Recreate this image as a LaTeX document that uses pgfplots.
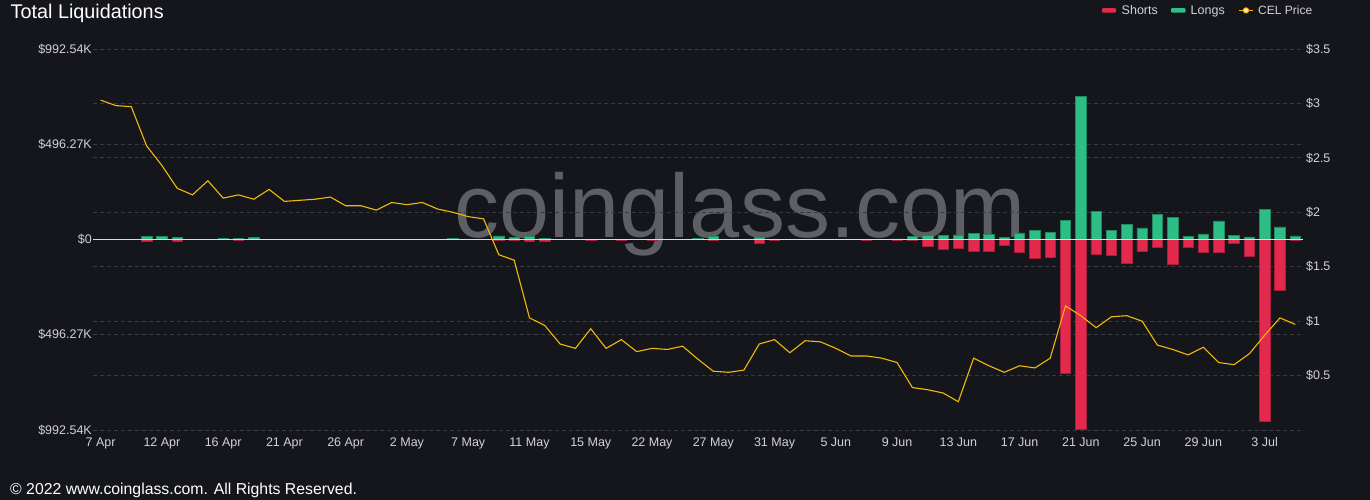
\documentclass[border=0pt]{standalone}
\usepackage{fontspec}
\setmainfont{Liberation Sans}
\usepackage{pgfplots}
\pgfplotsset{compat=1.18}
\usepackage{pgfplotstable}

\definecolor{bg}{HTML}{15161B}
\definecolor{gridc}{HTML}{393A40}
\definecolor{txt}{HTML}{D2D2D5}
\definecolor{shortc}{HTML}{E3294D}
\definecolor{shortd}{HTML}{A81E3A}
\definecolor{longc}{HTML}{2EBD85}
\definecolor{longd}{HTML}{1E8A60}
\definecolor{pricec}{HTML}{F0B90B}
\definecolor{wm}{HTML}{5E5F64}
\definecolor{zeroc}{HTML}{DCDCDC}

\pgfplotstableread{
i longs shorts price
0 0.8 0 3.03
1 1.5 0 2.98
2 0 -0.8 2.97
3 14 -7 2.61
4 17 0 2.43
5 12 -7 2.22
6 2 0 2.16
7 0 0 2.29
8 5 0 2.13
9 5 -5 2.16
10 10 0 2.12
11 0 0 2.21
12 0 0 2.10
13 0 0 2.11
14 2 0 2.12
15 0 0 2.14
16 0 0 2.06
17 0 0 2.06
18 0 0 2.02
19 0 0 2.09
20 0 0 2.07
21 0 0 2.09
22 0 0 2.03
23 7 0 2.00
24 2 0 1.96
25 2 0 1.94
26 19 -5 1.61
27 10 -2 1.56
28 15 -9 1.03
29 4 -10 0.96
30 2 0 0.79
31 0 0 0.75
32 0 -5 0.93
33 0 0 0.75
34 0 -2 0.83
35 0 0 0.72
36 0 -5 0.75
37 0 0 0.74
38 0 0 0.77
39 5 0 0.65
40 14 -5 0.54
41 0 0 0.53
42 2 0 0.55
43 9 -19 0.79
44 0 -2 0.83
45 0 0 0.71
46 0 0 0.82
47 0 0 0.81
48 0 0 0.75
49 0 0 0.68
50 0 -2 0.68
51 0 0 0.66
52 3 -2 0.62
53 15.6 -5 0.39
54 22.6 -36.4 0.37
55 20.8 -50.3 0.34
56 24.3 -46.9 0.26
57 31.2 -60.7 0.66
58 26 -60.7 0.59
59 10.4 -31.2 0.53
60 34.7 -65.9 0.59
61 46.9 -95.5 0.57
62 38.2 -92.1 0.66
63 98.9 -696 1.14
64 745 -990 1.05
65 145.8 -74.6 0.94
66 48.6 -79.8 1.04
67 78.1 -125 1.05
68 60.7 -59 1.00
69 130 -38.2 0.78
70 116 -126.7 0.74
71 15.6 -39.9 0.69
72 29.5 -65.9 0.76
73 97.2 -64.2 0.62
74 20.8 -19.1 0.60
75 13.9 -85 0.70
76 157.9 -946 0.87
77 65.9 -263.8 1.03
78 19.1 -2 0.97
}\data

\begin{document}
\begin{tikzpicture}[x=1pt,y=1pt]
\fill[bg] (0,0) rectangle (1370,500);
\node[anchor=base, text=wm, inner sep=0pt, font=\fontsize{90}{90}\selectfont] at (740,262) {coinglass.com};

\begin{axis}[
  at={(93pt,70pt)}, anchor=south west,
  scale only axis, width=1210pt, height=381pt,
  xmin=-0.5, xmax=78.5, ymin=-992.54, ymax=992.54,
  axis line style={draw=none},
  major tick length=0pt,
  xtick={0,4,8,12,16,20,24,28,32,36,40,44,48,52,56,60,64,68,72,76},
  xticklabels={7 Apr,12 Apr,16 Apr,21 Apr,26 Apr,2 May,7 May,11 May,15 May,22 May,27 May,31 May,5 Jun,9 Jun,13 Jun,17 Jun,21 Jun,25 Jun,29 Jun,3 Jul},
  ytick={-992.54,-496.27,0,496.27,992.54},
  yticklabels={\$992.54K,\$496.27K,\$0,\$496.27K,\$992.54K},
  extra y ticks={-708.96,-425.37,-141.79,141.79,425.37,708.96},
  extra y tick labels={},
  ymajorgrids,
  grid style={gridc, dash pattern=on 4pt off 3pt, line width=0.8pt},
  extra y tick style={grid style={gridc, dash pattern=on 4pt off 3pt, line width=0.8pt}},
  ticklabel style={font=\fontsize{12.5}{14}\selectfont, text=txt},
  yticklabel style={inner sep=0pt, xshift=-1pt},
  xticklabel style={inner sep=0pt, yshift=-7.5pt},
  ybar, bar width=0.68, bar shift=0pt,
]
\addplot[fill=longc, draw=longd, line width=0.6pt] table[x=i,y=longs]{\data};
\addplot[fill=shortc, draw=shortd, line width=0.6pt] table[x=i,y=shorts]{\data};
\draw[zeroc, line width=1pt] (axis cs:-0.5,0) -- (axis cs:78.5,0);
\end{axis}

\begin{axis}[
  at={(93pt,70pt)}, anchor=south west,
  scale only axis, width=1210pt, height=381pt,
  xmin=-0.5, xmax=78.5, ymin=0, ymax=3.5,
  axis line style={draw=none},
  major tick length=0pt,
  xtick=\empty,
  ytick={0.5,1,1.5,2,2.5,3,3.5},
  yticklabels={\$0.5,\$1,\$1.5,\$2,\$2.5,\$3,\$3.5},
  yticklabel pos=right,
  ticklabel style={font=\fontsize{12.5}{14}\selectfont, text=txt},
  yticklabel style={inner sep=0pt, anchor=west, xshift=3pt},
]
\addplot[pricec, line width=1.1pt, no markers] table[x=i,y=price]{\data};
\end{axis}

% title, legend, footer
\node[anchor=base west, inner sep=0pt, text=white, font=\fontsize{19.8}{22}\selectfont] at (10.5,481.5) {Total Liquidations};
\fill[shortc, rounded corners=1pt] (1102,487.3) rectangle (1116,491.9);
\node[anchor=base west, inner sep=0pt, text=txt, font=\fontsize{12.5}{14}\selectfont] at (1121.5,485.7) {Shorts};
\fill[longc, rounded corners=1pt] (1171,487.3) rectangle (1185.5,491.9);
\node[anchor=base west, inner sep=0pt, text=txt, font=\fontsize{12.5}{14}\selectfont] at (1190.5,485.7) {Longs};
\draw[pricec, line width=1.3pt] (1239,489.6) -- (1253,489.6);
\draw[pricec, fill=white!70!pricec, line width=1pt] (1246,489.6) circle (2.6pt);
\node[anchor=base west, inner sep=0pt, text=txt, font=\fontsize{12}{14}\selectfont] at (1258,485.7) {CEL Price};
\node[anchor=base west, inner sep=0pt, text=white, font=\fontsize{15.8}{18}\selectfont] at (10,5) {\textcopyright{} 2022 www.coinglass.com. All Rights Reserved.};
\end{tikzpicture}
\end{document}
